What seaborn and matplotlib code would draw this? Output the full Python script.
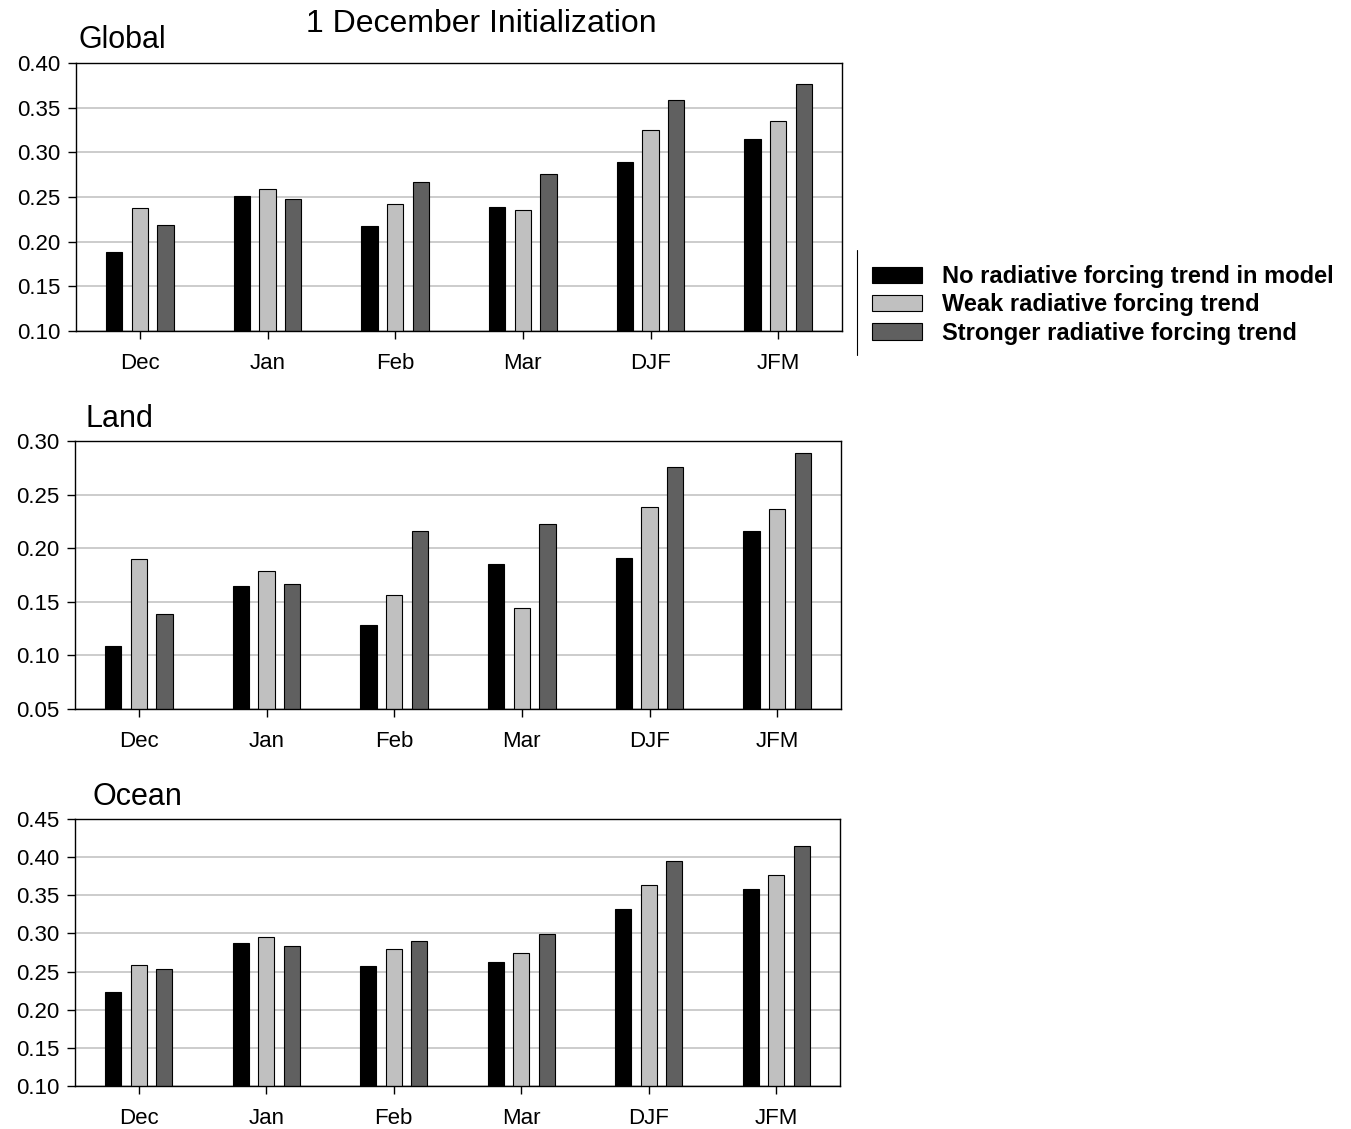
import numpy as np
import pandas as pd
import matplotlib
matplotlib.use("Agg")
import matplotlib.pyplot as plt
from matplotlib.patches import Patch
from matplotlib.lines import Line2D
import seaborn as sns

sns.set_style("white")
plt.rcParams['font.family'] = ['Liberation Sans', 'DejaVu Sans']
plt.rcParams['text.color'] = 'black'
plt.rcParams['xtick.color'] = 'black'
plt.rcParams['ytick.color'] = 'black'
plt.rcParams['axes.labelcolor'] = 'black'

months = ["Dec", "Jan", "Feb", "Mar", "DJF", "JFM"]
series = ["No radiative forcing trend in model",
          "Weak radiative forcing trend",
          "Stronger radiative forcing trend"]
colors = ["#000000", "#c0c0c0", "#606060"]

global_none = [0.188, 0.251, 0.218, 0.239, 0.289, 0.315]
global_weak = [0.238, 0.259, 0.242, 0.235, 0.325, 0.335]
global_strong = [0.219, 0.248, 0.267, 0.276, 0.359, 0.376]

land_none = [0.109, 0.165, 0.128, 0.185, 0.191, 0.216]
land_weak = [0.190, 0.179, 0.156, 0.144, 0.238, 0.237]
land_strong = [0.139, 0.167, 0.216, 0.223, 0.276, 0.289]

ocean_none = [0.223, 0.288, 0.257, 0.262, 0.332, 0.358]
ocean_weak = [0.259, 0.295, 0.280, 0.275, 0.363, 0.377]
ocean_strong = [0.254, 0.284, 0.290, 0.299, 0.395, 0.414]

panels = [
    ("Global", [global_none, global_weak, global_strong], (0.10, 0.40), np.arange(0.10, 0.401, 0.05)),
    ("Land", [land_none, land_weak, land_strong], (0.05, 0.30), np.arange(0.05, 0.301, 0.05)),
    ("Ocean", [ocean_none, ocean_weak, ocean_strong], (0.10, 0.45), np.arange(0.10, 0.451, 0.05)),
]

W, H = 1351, 1129
fig = plt.figure(figsize=(W / 100, H / 100), dpi=100)

# axes boxes in pixels: left, right, top, bottom
boxes = [(76, 842, 63, 331), (75, 841, 441, 709), (75, 840, 819, 1086)]
title_pos = [(78, 48), (86, 427), (93, 805)]

for (name, vals, ylim, yticks), (l, r, t, b), (tx, ty) in zip(panels, boxes, title_pos):
    ax = fig.add_axes([l / W, 1 - b / H, (r - l) / W, (b - t) / H])
    rows = []
    for s, v in zip(series, vals):
        for m, val in zip(months, v):
            rows.append({"month": m, "series": s, "value": val})
    df = pd.DataFrame(rows)
    sns.barplot(data=df, x="month", y="value", hue="series", order=months,
                hue_order=series, palette=colors, width=0.6, gap=0.36,
                edgecolor="black", linewidth=0.8, legend=False, ax=ax,
                errorbar=None)
    ax.set_xlim(-0.5, 5.5)
    ax.set_ylim(*ylim)
    ax.set_yticks(yticks)
    ax.set_yticklabels([f"{v:.2f}" for v in yticks])
    ax.set_xlabel("")
    ax.set_ylabel("")
    ax.yaxis.grid(True, color="#c8c8c8", linewidth=1.3)
    ax.xaxis.grid(False)
    ax.set_axisbelow(True)
    for sp in ax.spines.values():
        sp.set_visible(True)
        sp.set_color("black")
        sp.set_linewidth(1.0)
    ax.tick_params(axis="y", direction="out", length=5.5, width=1.0, pad=6,
                   labelsize=16, left=True, colors="black")
    ax.tick_params(axis="x", direction="out", length=5.5, width=1.0, pad=10,
                   labelsize=16, bottom=True, colors="black")
    fig.text(tx / W, 1 - ty / H, name, ha="left", va="baseline", fontsize=22,
             color="black")

fig.text(481 / W, 1 - 32 / H, "1 December Initialization", ha="center",
         va="baseline", fontsize=23, color="black")

handles = [Patch(facecolor=c, edgecolor="black", linewidth=0.8) for c in colors]
leg = fig.legend(handles, series, loc="center left",
                 bbox_to_anchor=(872 / W, 1 - 305 / H), frameon=False,
                 prop={"weight": "bold", "size": 17}, handlelength=2.12,
                 handleheight=0.68, handletextpad=0.85, labelspacing=0.22,
                 borderpad=0, borderaxespad=0)
for txt in leg.get_texts():
    txt.set_color("black")

fig.add_artist(Line2D([857 / W, 857 / W], [1 - 250 / H, 1 - 355 / H],
                      color="black", linewidth=0.8, transform=fig.transFigure))

fig.savefig("out.png", dpi=100)
